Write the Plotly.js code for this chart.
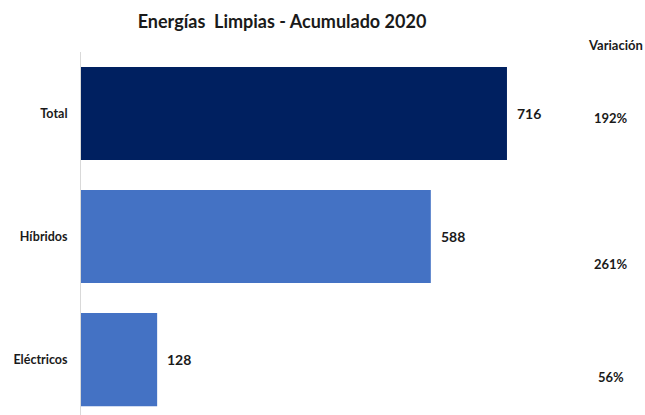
<!DOCTYPE html>
<html>
<head>
<meta charset="utf-8">
<script src="https://cdn.plot.ly/plotly-3.0.1.min.js"></script>
<style>html,body{margin:0;padding:0;background:#fff;}#chart{width:645px;height:415px;}</style>
</head>
<body>
<div id="chart"></div>
<script>
var categories = ["Total", "Híbridos", "Eléctricos"];
var values = [716, 588, 128];
var variacion = ["192%", "261%", "56%"];
var colors = ["#002060", "#4472C4", "#4472C4"];

var FONT = "Lato, 'Open Sans', sans-serif";
var varShift = [0.04, 0.225, 0.145];
var L = 81, W = 645 - 81, H = 363;

var annotations = [];
for (var i = 0; i < categories.length; i++) {
  annotations.push({
    x: values[i], y: categories[i], xref: 'x', yref: 'y',
    text: String(values[i]), showarrow: false, xanchor: 'left', xshift: 8,
    font: {family: FONT, size: 14, color: '#1a1a1a', weight: 'bold'}
  });
  annotations.push({
    x: (611 - L) / W, y: i + varShift[i], xref: 'paper', yref: 'y',
    text: variacion[i], showarrow: false, xanchor: 'center', yanchor: 'middle',
    font: {family: FONT, size: 13, color: '#1a1a1a', weight: 'bold'}
  });
}
annotations.push({
  x: (615 - L) / W, y: 1 + (52 - 45) / H, xref: 'paper', yref: 'paper',
  xanchor: 'center', yanchor: 'middle',
  text: 'Variación', showarrow: false,
  font: {family: FONT, size: 13, color: '#1a1a1a', weight: 'bold'}
});

var trace = {
  type: 'bar', orientation: 'h',
  x: values, y: categories,
  marker: {color: colors},
  width: 0.756,
  hoverinfo: 'none'
};

var layout = {
  width: 645, height: 415,
  margin: {l: L, r: 0, t: 52, b: 0},
  paper_bgcolor: '#fff', plot_bgcolor: '#fff',
  showlegend: false,
  title: {
    text: 'Energías  Limpias - Acumulado 2020',
    x: 282 / 645, xanchor: 'center', y: 1 - 22 / 415, yanchor: 'middle',
    font: {family: FONT, size: 18, color: '#1a1a1a', weight: 'bold'}
  },
  xaxis: {range: [0, 948], showgrid: false, zeroline: false, showticklabels: false, showline: false, fixedrange: true},
  yaxis: {
    type: 'category', range: [2.45, -0.5],
    showgrid: false, zeroline: false, showline: true, linecolor: '#d9d9d9', linewidth: 1,
    ticks: '', ticklabelstandoff: 10,
    tickfont: {family: FONT, size: 12.5, color: '#1a1a1a', weight: 'bold'}
  },
  annotations: annotations
};

Plotly.newPlot('chart', [trace], layout, {displayModeBar: false, staticPlot: true});
</script>
</body>
</html>
